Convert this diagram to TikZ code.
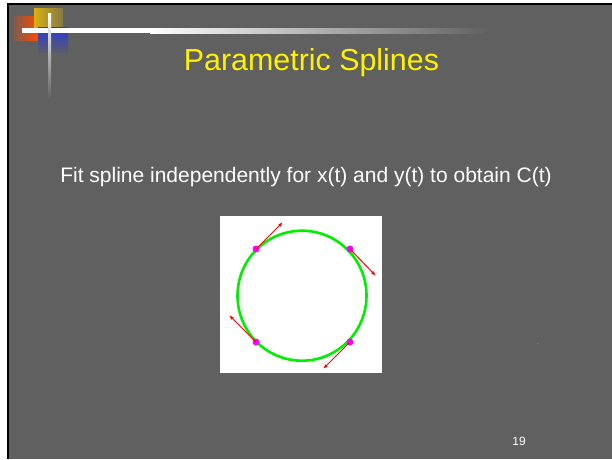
\documentclass[tikz,border=0pt]{standalone}
\usepackage{fontspec}
\setmainfont{Liberation Sans}
\usetikzlibrary{arrows.meta}
\definecolor{bg}{HTML}{606060}
\definecolor{circgreen}{HTML}{00EE00}
\definecolor{orng}{HTML}{FF4A00}
\definecolor{gold}{HTML}{D8B010}
\definecolor{blu}{HTML}{2838D8}
\definecolor{magpt}{HTML}{FF00FF}
\begin{document}
\begin{tikzpicture}[x=1pt,y=-1pt,
  tangent/.style={draw=red,line width=1pt,-{Latex[length=5pt,width=3.5pt]}},
  ctrlpt/.style={circle,fill=magpt,inner sep=0pt,minimum size=7pt},
  titletext/.style={text=yellow,font=\fontsize{30.4}{34}\selectfont},
  bodytext/.style={text=white,font=\fontsize{21}{25}\selectfont}]
\useasboundingbox (0,0) rectangle (612,459);
\fill[white] (0,0) rectangle (612,459);
\fill[bg] (9,5) rectangle (612,459);
\fill[black] (7,3) rectangle (9,459);
\fill[black] (7,3) rectangle (612,5);
% logo
\shade[left color=orng!20!bg,right color=orng] (14,16) rectangle (38,40);
\shade[left color=gold,right color=gold!30!bg] (34,8) rectangle (63,29);
\shade[top color=blu,bottom color=blu!10!bg] (38,27) rectangle (68,52);
\fill[white] (22,28) rectangle (150,33);
\shade[left color=white,right color=bg] (150,28) rectangle (490,33);
\shade[top color=white,bottom color=bg] (48,13) rectangle (51,100);
% texts
\node[titletext] (title) at (311.5,63) {Parametric Splines};
\node[bodytext] (body) at (306,177) {Fit spline independently for x(t) and y(t) to obtain C(t)};
\node[text=white,font=\fontsize{12}{14}\selectfont] (pagenum) at (519,441) {19};
\node[text=white,font=\fontsize{5}{6}\selectfont,inner sep=0pt] (dot) at (538,344) {.};
% picture
\fill[white] (220,216) rectangle (382,373);
\draw[circgreen,line width=2.6pt] (302,295.7) ellipse (64.5 and 65);
\node[ctrlpt] (p1) at (256,249) {};
\node[ctrlpt] (p2) at (350,249) {};
\node[ctrlpt] (p3) at (256,342) {};
\node[ctrlpt] (p4) at (350,342) {};
\coordinate (t1) at (283,222);
\coordinate (t2) at (376,276);
\coordinate (t3) at (229,315);
\coordinate (t4) at (323,369);
\draw[tangent] (p1.center) -- (t1);
\draw[tangent] (p2.center) -- (t2);
\draw[tangent] (p3.center) -- (t3);
\draw[tangent] (p4.center) -- (t4);
\end{tikzpicture}
\end{document}
